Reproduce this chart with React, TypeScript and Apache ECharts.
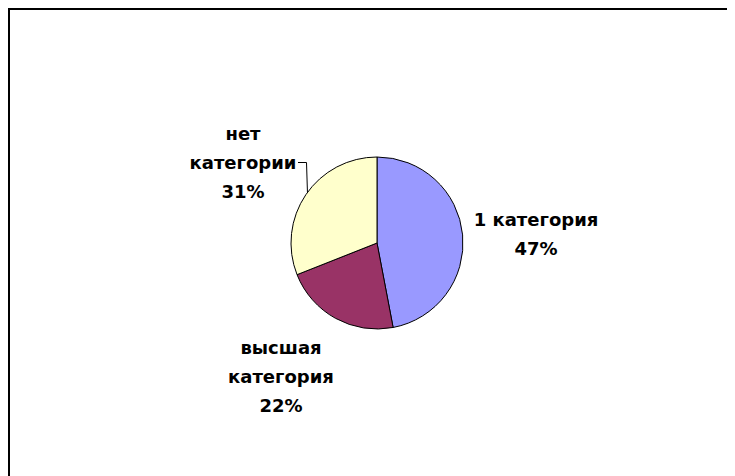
import React, { useEffect, useRef } from "react";
import * as echarts from "echarts";

const categories = ["1 категория", "высшая категория", "нет категории"];
const labelTexts = ["1 категория", "высшая\nкатегория", "нет\nкатегории"];
const values = [47, 22, 31];
const colors = ["#9999FF", "#993366", "#FFFFCC"];
// label block centres (chart px)
const labelPos = [
  [528, 226],
  [273, 368],
  [235, 154],
];

export default function App() {
  const ref = useRef<HTMLDivElement>(null);
  useEffect(() => {
    document.documentElement.style.overflow = "hidden";
    document.body.style.overflow = "hidden";
    if (!ref.current) return;
    const chart = echarts.init(ref.current, null, { renderer: "svg" });
    chart.setOption({
      animation: false,
      backgroundColor: "#ffffff",
      graphic: [
        {
          type: "line",
          shape: { x1: 0, y1: 1, x2: 727, y2: 1 },
          style: { stroke: "#000000", lineWidth: 2 },
          silent: true,
        },
        {
          type: "line",
          shape: { x1: 1, y1: 0, x2: 1, y2: 468 },
          style: { stroke: "#000000", lineWidth: 2 },
          silent: true,
        },
        {
          type: "polyline",
          shape: { points: [[290, 154.5], [298.5, 154.5], [299.5, 186]] },
          style: { stroke: "#000000", lineWidth: 1, fill: "none" },
          silent: true,
        },
      ],
      series: [
        {
          type: "pie",
          center: [369, 235],
          radius: 86,
          startAngle: 90,
          clockwise: true,
          itemStyle: { borderColor: "#000000", borderWidth: 1 },
          label: {
            show: true,
            position: "outside",
            color: "#000000",
            fontFamily: "DejaVu Sans",
            fontWeight: "bold",
            fontSize: 18,
            lineHeight: 29,
            align: "center",
            formatter: (p: any) =>
              labelTexts[p.dataIndex] + "\n" + Math.round(p.percent) + "%",
          },
          labelLine: { show: false },
          labelLayout: (p: any) => ({
            x: labelPos[p.dataIndex][0],
            y: labelPos[p.dataIndex][1],
            align: "center",
            verticalAlign: "middle",
          }),
          data: categories.map((name, i) => ({
            name,
            value: values[i],
            itemStyle: { color: colors[i] },
          })),
        },
      ],
    });
    return () => chart.dispose();
  }, []);
  return <div ref={ref} style={{ width: 727, height: 468 }} />;
}
